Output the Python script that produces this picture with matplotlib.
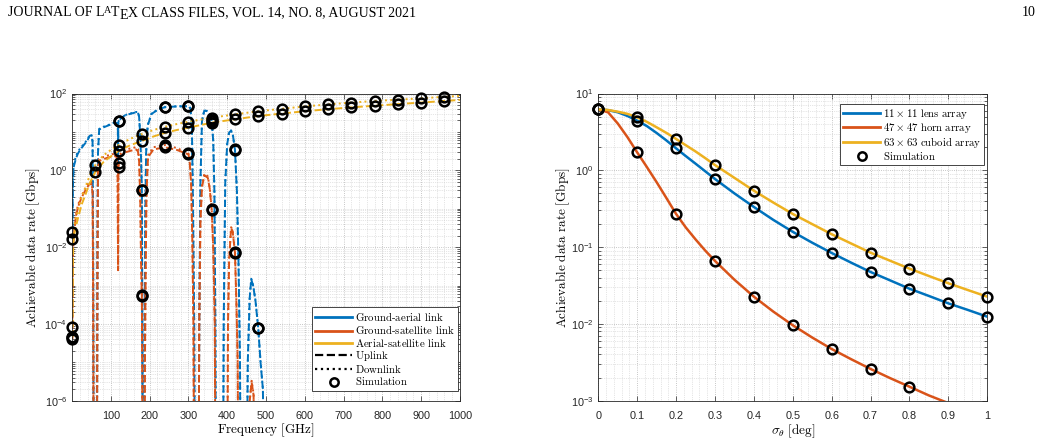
import numpy as np
import matplotlib
matplotlib.use('Agg')
import matplotlib.pyplot as plt
from matplotlib.lines import Line2D
from matplotlib.ticker import FixedLocator, FuncFormatter, NullFormatter, LogLocator, MultipleLocator
from matplotlib.transforms import IdentityTransform

plt.rcParams['font.family'] = ['Liberation Sans', 'DejaVu Sans']
plt.rcParams['mathtext.fontset'] = 'custom'
plt.rcParams['mathtext.rm'] = 'Liberation Sans'
plt.rcParams['mathtext.it'] = 'Liberation Sans:italic'
plt.rcParams['mathtext.bf'] = 'Liberation Sans:bold'

# ---------------- data: left panel (frequency sweep) ----------------
# (frequency GHz, downlink rate, uplink rate) ; 1e-9 = below the axis
ground_aerial = [
    (1, 0.025, 0.016), (2, 0.3, 0.2), (3, 0.9, 0.7), (5, 1.5, 1.3), (10, 2.3, 2.0),
    (15, 3.0, 2.7), (20, 3.6, 3.3), (30, 4.8, 4.5), (40, 6.3, 6.0), (45, 8.1, 7.8),
    (50, 8.5, 8.2), (53, 6.0, 5.5), (54.5, 0.01, 0.008), (56, 1e-9, 1e-9), (64, 1e-9, 1e-9),
    (65.5, 0.01, 0.008), (67, 3.0, 2.8), (70, 12.0, 11.5), (80, 13.5, 13.0), (100, 16.0, 15.6),
    (112, 18.0, 17.6), (118, 17.0, 16.6), (118.5, 6.0, 5.6), (118.75, 1.1, 1.0), (119.0, 6.0, 5.6),
    (119.5, 17.0, 16.6), (120, 19.2, 19.0), (122, 21.0, 20.6), (135, 27.0, 26.5), (150, 30.0, 29.5),
    (165, 33.0, 32.4), (170, 33.0, 32.4), (173, 25.0, 24.5), (176, 8.0, 7.8), (178, 2.0, 1.9),
    (180, 0.31, 0.30), (181.5, 1e-5, 1e-5), (182.5, 1e-9, 1e-9), (185.5, 1e-9, 1e-9), (186.5, 1e-5, 1e-5),
    (189, 0.1, 0.09), (191, 3.0, 2.8), (195, 15.0, 14.5), (205, 30.0, 29.4), (224, 40.0, 39.5),
    (240, 44.5, 44.0), (270, 46.5, 46.0), (300, 47.0, 46.5), (305, 42.0, 41.5), (309, 15.0, 14.6),
    (312, 0.1, 0.09), (315, 1e-4, 1e-4), (317, 1e-9, 1e-9), (326, 1e-9, 1e-9), (328, 1e-4, 1e-4),
    (331, 0.5, 0.48), (335, 20.0, 19.5), (341, 36.5, 36.0), (348, 35.0, 34.5), (355, 28.0, 27.5),
    (360, 20.0, 19.5), (364, 6.0, 5.8), (367, 0.3, 0.28), (369.5, 1e-4, 1e-4), (371, 1e-9, 1e-9),
    (389, 1e-9, 1e-9), (391, 1e-4, 1e-4), (395, 0.5, 0.48), (400, 5.0, 4.8), (405, 10.0, 9.7),
    (410, 11.0, 10.7), (415, 8.0, 7.8), (420, 3.52, 3.45), (425, 0.3, 0.29), (429, 5e-3, 4.8e-3),
    (433, 1e-5, 1e-5), (435, 1e-9, 1e-9), (450, 1e-9, 1e-9), (453, 1e-5, 1e-5), (458, 5e-4, 4.8e-4),
    (462, 1.5e-3, 1.45e-3), (467, 1e-3, 9.7e-4), (473, 4e-4, 3.9e-4), (480, 7.8e-5, 7.6e-5),
    (486, 1e-5, 1e-5), (492, 2e-6, 2e-6), (496, 1e-9, 1e-9), (1000, 1e-9, 1e-9),
]
ground_satellite = [
    (1, 4.5e-5, 4e-5), (2, 3e-3, 2.5e-3), (3, 0.01, 0.009), (5, 0.025, 0.022), (10, 0.07, 0.062),
    (15, 0.12, 0.105), (20, 0.17, 0.15), (30, 0.28, 0.25), (40, 0.42, 0.37), (45, 0.5, 0.44),
    (50, 0.5, 0.44), (53, 0.3, 0.26), (54.5, 1e-3, 8e-4), (56, 1e-9, 1e-9), (64, 1e-9, 1e-9),
    (65.5, 1e-3, 8e-4), (67, 1.2, 1.0), (70, 2.0, 1.75), (90, 2.4, 2.1), (109, 2.7, 2.35),
    (115, 2.6, 2.25), (117.5, 1.2, 1.0), (118.75, 2.9e-3, 2.5e-3), (119.5, 0.9, 0.75), (120, 1.55, 1.22),
    (122, 2.5, 2.15), (135, 3.3, 2.9), (150, 3.7, 3.2), (165, 4.0, 3.5), (170, 3.6, 3.1),
    (173, 2.0, 1.7), (176, 0.2, 0.17), (178, 5e-3, 4e-3), (180, 5.6e-4, 5.3e-4), (181, 1e-5, 9e-6),
    (182, 1e-9, 1e-9), (187, 1e-9, 1e-9), (188, 1e-5, 9e-6), (189.5, 1e-3, 9e-4), (192, 0.3, 0.26),
    (196, 2.5, 2.2), (210, 4.0, 3.5), (238, 4.5, 3.95), (240, 4.56, 3.97), (270, 3.8, 3.4),
    (300, 2.77, 2.6), (303, 2.0, 1.85), (307, 0.5, 0.45), (310, 0.02, 0.018), (313, 1e-4, 9e-5),
    (315, 1e-9, 1e-9), (326, 1e-9, 1e-9), (328, 1e-4, 9e-5), (331, 0.05, 0.045), (335, 0.4, 0.36),
    (341, 0.81, 0.74), (350, 0.7, 0.64), (355, 0.35, 0.33), (360, 0.096, 0.094), (364, 0.01, 0.0095),
    (368, 1e-4, 9e-5), (370, 1e-9, 1e-9), (400, 1e-9, 1e-9), (402, 1e-4, 9e-5), (405, 5e-3, 4.6e-3),
    (410, 0.033, 0.031), (414, 0.028, 0.026), (420, 7.3e-3, 7.1e-3), (424, 3e-4, 2.8e-4), (427, 1e-5, 9e-6),
    (429, 1e-9, 1e-9), (455, 1e-9, 1e-9), (458, 1e-6, 1e-6), (463, 3.3e-6, 3e-6), (468, 1.5e-6, 1.4e-6),
    (471, 1e-9, 1e-9), (1000, 1e-9, 1e-9),
]
aerial_satellite = [
    (1, 8.2e-5, 4.5e-5), (1.5, 1e-3, 6e-4), (2, 5e-3, 3e-3), (3, 0.02, 0.012), (5, 0.032, 0.02),
    (8, 0.045, 0.028), (15, 0.09, 0.055), (25, 0.2, 0.13), (33, 0.33, 0.21), (45, 0.7, 0.45),
    (60, 1.37, 0.9), (80, 2.4, 1.6), (100, 3.4, 2.3), (120, 4.56, 3.18), (150, 6.6, 4.5),
    (180, 8.8, 5.8), (210, 11.2, 7.6), (240, 13.6, 9.5), (270, 16.0, 11.2), (300, 18.4, 12.9),
    (360, 23.4, 17.4), (420, 28.7, 21.3), (480, 34.4, 25.9), (540, 40.0, 30.0), (600, 46.0, 34.5),
    (660, 52.0, 39.0), (720, 58.0, 43.5), (780, 64.0, 48.0), (840, 69.0, 53.0), (900, 75.0, 58.0),
    (960, 82.0, 64.0), (1000, 87.0, 68.0),
]
nan = np.nan
sim_freq = [1, 60, 120, 180, 240, 300, 360, 420, 480, 540, 600, 660, 720, 780, 840, 900, 960]
sim_ga_down = [0.025, nan, 19.2, 0.31, 44.5, 47.0, 20.0, 3.52, 7.8e-5, nan, nan, nan, nan, nan, nan, nan, nan]
sim_ga_up = [0.016, nan, 19.0, 0.30, 44.0, 46.5, 19.5, 3.45, 7.6e-5, nan, nan, nan, nan, nan, nan, nan, nan]
sim_gs_down = [4.5e-5, nan, 1.55, 5.6e-4, 4.56, 2.77, 0.096, 7.3e-3, nan, nan, nan, nan, nan, nan, nan, nan, nan]
sim_gs_up = [4e-5, nan, 1.22, 5.3e-4, 3.97, 2.6, 0.094, 7.1e-3, nan, nan, nan, nan, nan, nan, nan, nan, nan]
sim_as_down = [8.2e-5, 1.37, 4.56, 8.8, 13.6, 18.4, 23.4, 28.7, 34.4, 40.0, 46.0, 52.0, 58.0, 64.0, 69.0, 75.0, 82.0]
sim_as_up = [4.5e-5, 0.9, 3.18, 5.8, 9.5, 12.9, 17.4, 21.3, 25.9, 30.0, 34.5, 39.0, 43.5, 48.0, 53.0, 58.0, 64.0]

# ---------------- data: right panel (pointing error) ----------------
sigma = [0, 0.025, 0.05, 0.075, 0.1, 0.125, 0.15, 0.175, 0.2, 0.225, 0.25, 0.275, 0.3,
         0.35, 0.4, 0.45, 0.5, 0.55, 0.6, 0.65, 0.7, 0.75, 0.8, 0.85, 0.9, 0.95, 1.0]
lens_rate = [6.2, 6.07, 5.7, 5.1, 4.43, 3.76, 3.06, 2.45, 1.93, 1.53, 1.22, 0.97, 0.77,
             0.50, 0.333, 0.226, 0.158, 0.114, 0.0838, 0.0627, 0.0474, 0.0369, 0.0287, 0.0231,
             0.0185, 0.0152, 0.0124]
horn_rate = [6.2, 5.7, 4.07, 2.7, 1.71, 1.10, 0.70, 0.436, 0.27, 0.18, 0.126, 0.090, 0.066,
             0.0376, 0.0226, 0.01445, 0.0096, 0.00664, 0.00471, 0.00347, 0.00259, 0.00197,
             0.00152, 0.00117, 0.00093, 0.00074, 0.00059]
cuboid_rate = [6.2, 6.1, 5.8, 5.43, 4.9, 4.27, 3.63, 3.07, 2.56, 2.12, 1.76, 1.44, 1.17,
               0.797, 0.542, 0.38, 0.27, 0.199, 0.147, 0.1114, 0.0845, 0.0665, 0.0524, 0.042,
               0.0338, 0.0276, 0.0226]
sim_sigma = [0, 0.1, 0.2, 0.3, 0.4, 0.5, 0.6, 0.7, 0.8, 0.9, 1.0]
sim_lens = [6.2, 4.43, 1.93, 0.77, 0.333, 0.158, 0.0838, 0.0474, 0.0287, 0.0185, 0.0124]
sim_horn = [6.2, 1.71, 0.27, 0.066, 0.0226, 0.0096, 0.00471, 0.00259, 0.00152, nan, nan]
sim_cuboid = [6.2, 4.9, 2.56, 1.17, 0.542, 0.27, 0.147, 0.0845, 0.0524, 0.0338, 0.0226]

left_labels = ['Ground-aerial link', 'Ground-satellite link', 'Aerial-satellite link', 'Uplink', 'Downlink', 'Simulation']
right_labels = [r'$11\times11\ \mathrm{lens\ array}$', r'$47\times47\ \mathrm{horn\ array}$',
                r'$63\times63\ \mathrm{cuboid\ array}$', r'$\mathrm{Simulation}$']

C_BLUE, C_RED, C_YEL = '#0072BD', '#D95319', '#EDB120'
AX_COL = '#262626'

fig = plt.figure(figsize=(10.41, 4.43), dpi=100)
H = 443.0
ax1 = fig.add_axes([72 / 1041, (H - 400.7) / H, 388 / 1041, 307.2 / H])
ax2 = fig.add_axes([598.3 / 1041, (H - 400.7) / H, 389 / 1041, 307.2 / H])


def dec_fmt(v, pos):
    e = int(round(np.log10(v)))
    return r'$\mathdefault{10^{%d}}$' % e


def style(ax):
    ax.set_yscale('log')
    ax.grid(True, which='major', color='#b4b4b4', linestyle=':', linewidth=0.6)
    ax.grid(True, which='minor', color='#cccccc', linestyle=':', linewidth=0.5)
    ax.set_axisbelow(True)
    for s in ax.spines.values():
        s.set_color(AX_COL)
        s.set_linewidth(0.6)
    ax.tick_params(which='both', direction='in', top=True, right=True, colors=AX_COL,
                   labelsize=7.8, width=0.5)
    ax.tick_params(which='major', length=3.5)
    ax.tick_params(which='minor', length=2)
    ax.tick_params(axis='x', which='minor', length=0)
    ax.tick_params(axis='x', which='major', pad=7.5)
    ax.tick_params(axis='y', which='major', pad=3.5)
    ax.yaxis.set_major_formatter(FuncFormatter(dec_fmt))
    ax.yaxis.set_minor_formatter(NullFormatter())


def unpack(rows):
    f = [r[0] for r in rows]
    d = [r[1] for r in rows]
    u = [r[2] for r in rows]
    return f, d, u


# ---------------- left panel ----------------
style(ax1)
lw = 1.4
for rows, col in [(ground_aerial, C_BLUE), (ground_satellite, C_RED), (aerial_satellite, C_YEL)]:
    f, d, u = unpack(rows)
    ax1.plot(f, u, color=col, lw=lw, ls='--')
    ax1.plot(f, d, color=col, lw=lw, ls=':')
for s in [sim_ga_down, sim_ga_up, sim_gs_down, sim_gs_up, sim_as_down, sim_as_up]:
    ax1.plot(sim_freq, s, ls='none', marker='o', ms=7, mfc='none', mec='black', mew=1.8, clip_on=False, zorder=5)

ax1.set_xlim(0, 1000)
ax1.set_ylim(1e-6, 1e2)
ax1.xaxis.set_major_locator(FixedLocator(np.arange(100, 1001, 100)))
ax1.xaxis.set_minor_locator(MultipleLocator(20))
ax1.yaxis.set_major_locator(FixedLocator([1e-6, 1e-4, 1e-2, 1e0, 1e2]))
ax1.yaxis.set_minor_locator(LogLocator(base=10, subs=np.arange(1, 10), numticks=100))
ax1.xaxis.set_major_formatter(FuncFormatter(lambda v, p: '%d' % v))

ax1.set_xlabel(r'$\mathrm{Frequency\ [GHz]}$', fontsize=9.5)
ax1.set_ylabel(r'$\mathrm{Achievable\ data\ rate\ [Gbps]}$', fontsize=9.5)
ax1.xaxis.set_label_coords(0.5, -0.097)
ax1.xaxis.label.set_va('center')
ax1.yaxis.set_label_coords(-0.1, 0.5)
ax1.yaxis.label.set_va('center')
ax1.xaxis.label.set_math_fontfamily('cm')
ax1.yaxis.label.set_math_fontfamily('cm')

h1 = [Line2D([], [], color=C_BLUE, lw=2),
      Line2D([], [], color=C_RED, lw=2),
      Line2D([], [], color=C_YEL, lw=2),
      Line2D([], [], color='black', lw=1.6, ls='--'),
      Line2D([], [], color='black', lw=1.6, ls=':'),
      Line2D([], [], color='black', ls='none', marker='o', ms=6, mfc='none', mew=1.8)]
lab1 = [r'$\text{%s}$' % s for s in left_labels]
leg1 = ax1.legend(h1, lab1, loc='lower right', bbox_to_anchor=(0.995, 0.033), borderaxespad=0,
                  fontsize=7.8, frameon=True, fancybox=False, edgecolor=AX_COL, framealpha=1,
                  handlelength=3.4, handletextpad=0.3, labelspacing=0.02, borderpad=0.3)
leg1.get_frame().set_linewidth(0.6)
for t in leg1.get_texts():
    t.set_math_fontfamily('cm')

# ---------------- right panel ----------------
style(ax2)
ax2.plot(sigma, lens_rate, color=C_BLUE, lw=1.8)
ax2.plot(sigma, horn_rate, color=C_RED, lw=1.8)
ax2.plot(sigma, cuboid_rate, color=C_YEL, lw=1.8)
for s in [sim_lens, sim_horn, sim_cuboid]:
    ax2.plot(sim_sigma, s, ls='none', marker='o', ms=7, mfc='none', mec='black', mew=1.8, clip_on=False, zorder=5)
ax2.set_xlim(0, 1)
ax2.set_ylim(1e-3, 1e1)
ax2.xaxis.set_major_locator(FixedLocator(np.round(np.arange(0, 1.01, 0.1), 1)))
ax2.xaxis.set_minor_locator(MultipleLocator(0.02))
ax2.xaxis.set_major_formatter(FuncFormatter(lambda v, p: ('%g' % round(v, 1))))
ax2.yaxis.set_major_locator(FixedLocator([1e-3, 1e-2, 1e-1, 1e0, 1e1]))
ax2.yaxis.set_minor_locator(LogLocator(base=10, subs=np.arange(2, 10), numticks=100))
ax2.set_xlabel(r'$\sigma_\theta\ \mathrm{[deg]}$', fontsize=9.5)
ax2.set_ylabel(r'$\mathrm{Achievable\ data\ rate\ [Gbps]}$', fontsize=9.5)
ax2.xaxis.set_label_coords(0.5, -0.099)
ax2.xaxis.label.set_va('center')
ax2.yaxis.set_label_coords(-0.091, 0.5)
ax2.yaxis.label.set_va('center')
ax2.xaxis.label.set_math_fontfamily('cm')
ax2.yaxis.label.set_math_fontfamily('cm')

h2 = [Line2D([], [], color=C_BLUE, lw=2),
      Line2D([], [], color=C_RED, lw=2),
      Line2D([], [], color=C_YEL, lw=2),
      Line2D([], [], color='black', ls='none', marker='o', ms=6, mfc='none', mew=1.8)]
leg2 = ax2.legend(h2, right_labels, loc='upper right', bbox_to_anchor=(0.992, 0.965), borderaxespad=0,
                  fontsize=7.8, frameon=True, fancybox=False, edgecolor=AX_COL, framealpha=1,
                  handlelength=3.4, handletextpad=0.3, labelspacing=0.0, borderpad=0.25)
leg2.get_frame().set_linewidth(0.6)
for t in leg2.get_texts():
    t.set_math_fontfamily('cm')

# ---------------- page header ----------------
fig.canvas.draw()
rend = fig.canvas.get_renderer()
HS = 10.0
em = HS * 100 / 72.0
base_y = H - 16


def put(x, y, s, size):
    t = fig.text(x, y, s, transform=IdentityTransform(), fontsize=size, family='Liberation Serif',
                 ha='left', va='baseline', color='black')
    return t.get_window_extent(renderer=rend).x1


x = put(7.5, base_y, 'JOURNAL OF L', HS)
x = put(x - 0.02 * em, base_y + 0.2 * em, 'A', HS * 0.72)
x = put(x, base_y, 'T', HS)
x = put(x, base_y - 0.22 * em, 'E', HS)
x = put(x, base_y, 'X CLASS FILES, VOL. 14, NO. 8, AUGUST 2021', HS)
fig.text(1036, base_y, '10', transform=IdentityTransform(), fontsize=HS, family='Liberation Serif',
         ha='right', va='baseline')

fig.savefig('out.png', dpi=100)
